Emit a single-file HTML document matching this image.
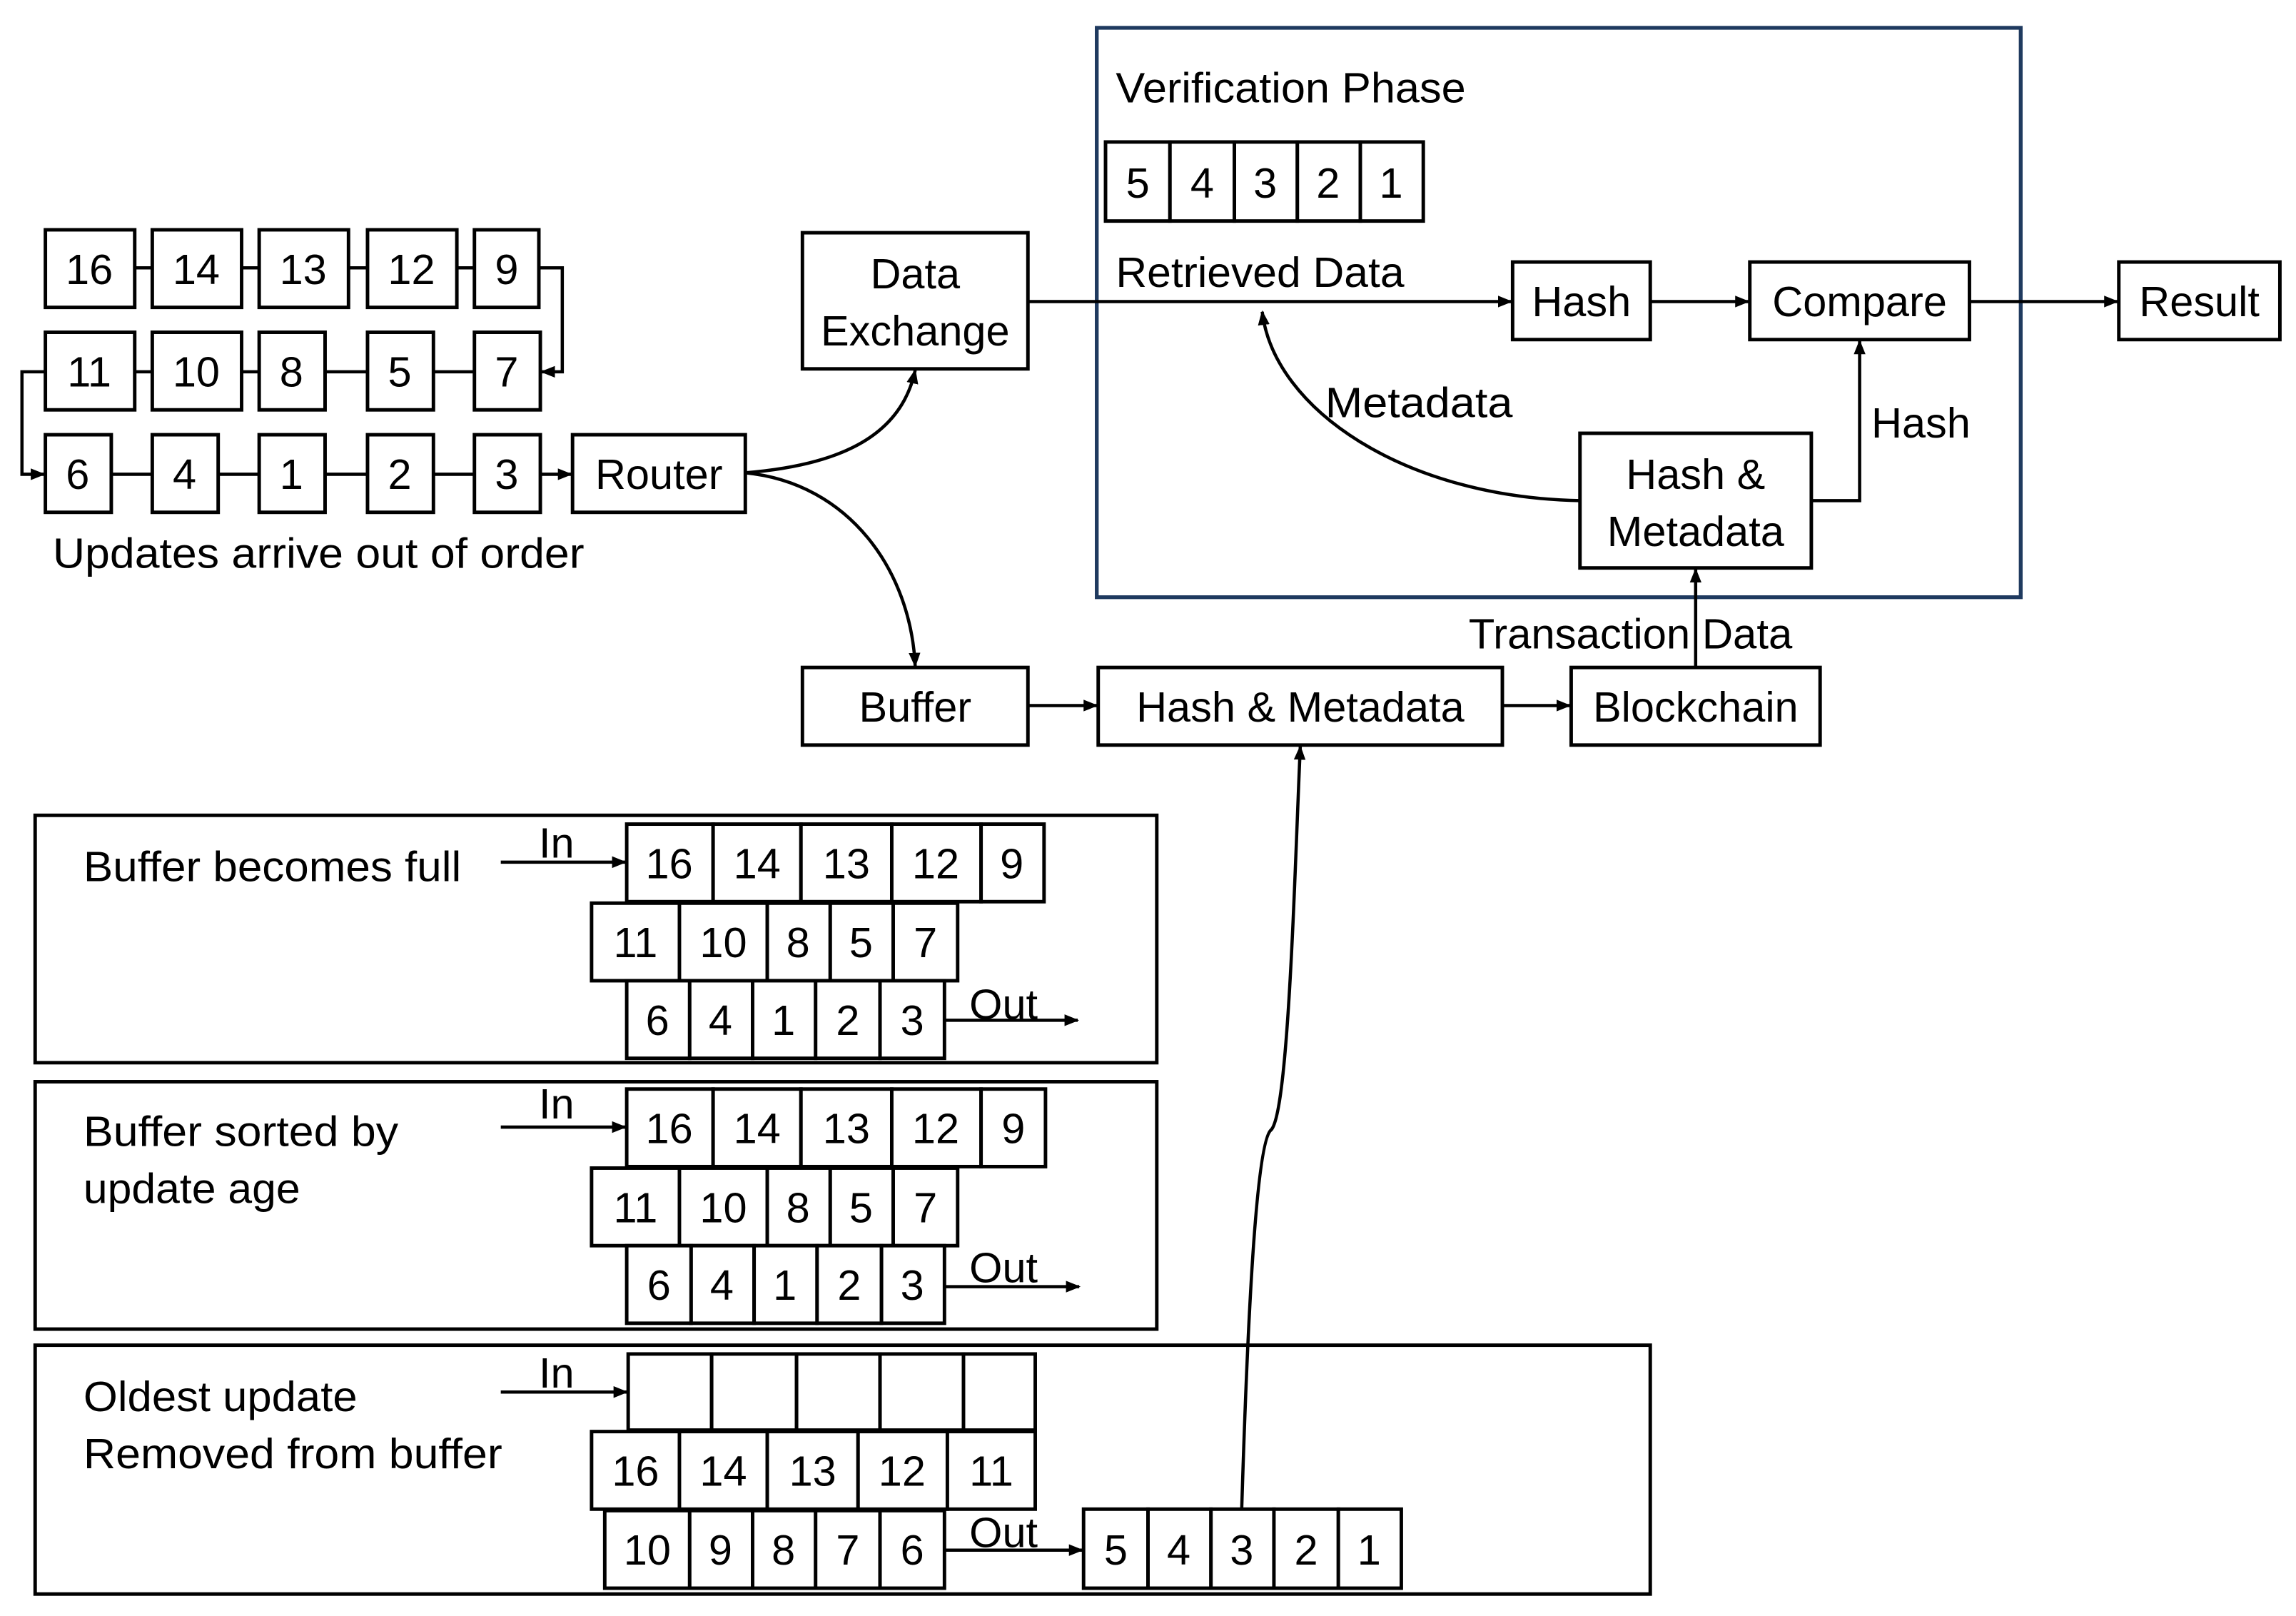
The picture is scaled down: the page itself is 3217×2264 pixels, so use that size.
<!DOCTYPE html>
<html><head><meta charset="utf-8"><style>
html,body{margin:0;padding:0;background:#fff}
svg{display:block}
text{font-family:"Liberation Sans",sans-serif;font-size:29px;fill:#000}
.c{text-anchor:middle}
rect{fill:#fff;stroke:#000;stroke-width:2.4}
path,line{fill:none;stroke:#000;stroke-width:2.2}
</style></head><body>
<svg width="3217" height="2264" viewBox="0 0 1568 1104" preserveAspectRatio="none" xmlns="http://www.w3.org/2000/svg">
<defs><marker id="a" markerWidth="10" markerHeight="10" refX="9" refY="5" orient="auto" markerUnits="userSpaceOnUse"><path d="M0,1 L10,5 L0,9 Z" style="fill:#000;stroke:none"/></marker></defs>

<!-- panels first -->
<rect x="24" y="557" width="766" height="169"/>
<rect x="24" y="739" width="766" height="169"/>
<rect x="24" y="919" width="1103" height="170"/>

<!-- top-left chains -->
<line x1="92" y1="183" x2="324" y2="183"/>
<line x1="92" y1="254" x2="324" y2="254"/>
<line x1="76" y1="324" x2="324" y2="324"/>
<path d="M368,183 H384 V254 H370" marker-end="url(#a)"/>
<path d="M31,254 H15 V324 H30" marker-end="url(#a)"/>
<line x1="369" y1="324" x2="390" y2="324" marker-end="url(#a)"/>
<g>
<rect x="31" y="157" width="61" height="53"/><text class="c" x="61" y="194">16</text>
<rect x="104" y="157" width="61" height="53"/><text class="c" x="134" y="194">14</text>
<rect x="177" y="157" width="61" height="53"/><text class="c" x="207" y="194">13</text>
<rect x="251" y="157" width="61" height="53"/><text class="c" x="281" y="194">12</text>
<rect x="324" y="157" width="44" height="53"/><text class="c" x="346" y="194">9</text>
<rect x="31" y="227" width="61" height="53"/><text class="c" x="61" y="264">11</text>
<rect x="104" y="227" width="61" height="53"/><text class="c" x="134" y="264">10</text>
<rect x="177" y="227" width="45" height="53"/><text class="c" x="199" y="264">8</text>
<rect x="251" y="227" width="45" height="53"/><text class="c" x="273" y="264">5</text>
<rect x="324" y="227" width="45" height="53"/><text class="c" x="346" y="264">7</text>
<rect x="31" y="297" width="45" height="53"/><text class="c" x="53" y="334">6</text>
<rect x="104" y="297" width="45" height="53"/><text class="c" x="126" y="334">4</text>
<rect x="177" y="297" width="45" height="53"/><text class="c" x="199" y="334">1</text>
<rect x="251" y="297" width="45" height="53"/><text class="c" x="273" y="334">2</text>
<rect x="324" y="297" width="45" height="53"/><text class="c" x="346" y="334">3</text>
<rect x="391" y="297" width="118" height="53"/><text class="c" x="450" y="334">Router</text>
</g>
<text x="36" y="388" textLength="363" lengthAdjust="spacingAndGlyphs">Updates arrive out of order</text>

<!-- router curves -->
<path d="M509,323 C570,318 615,300 625,253" marker-end="url(#a)"/>
<path d="M509,323 C580,330 622,390 625,455" marker-end="url(#a)"/>

<rect x="548" y="159" width="154" height="93"/><text class="c" x="625" y="197">Data</text><text class="c" x="625" y="236">Exchange</text>
<rect x="548" y="456" width="154" height="53"/><text class="c" x="625" y="493">Buffer</text>
<rect x="750" y="456" width="276" height="53"/><text class="c" x="888" y="493">Hash &amp; Metadata</text>
<rect x="1073" y="456" width="170" height="53"/><text class="c" x="1158" y="493">Blockchain</text>
<line x1="702" y1="482" x2="749" y2="482" marker-end="url(#a)"/>
<line x1="1026" y1="482" x2="1072" y2="482" marker-end="url(#a)"/>

<!-- verification -->
<rect x="749" y="19" width="631" height="389" style="stroke:#1f3a5f;stroke-width:2.6;fill:none"/>
<text x="762" y="70" textLength="239" lengthAdjust="spacingAndGlyphs">Verification Phase</text>
<rect x="755" y="97" width="44" height="54"/><text class="c" x="777" y="135">5</text>
<rect x="799" y="97" width="44" height="54"/><text class="c" x="821" y="135">4</text>
<rect x="843" y="97" width="43" height="54"/><text class="c" x="864" y="135">3</text>
<rect x="886" y="97" width="43" height="54"/><text class="c" x="907" y="135">2</text>
<rect x="929" y="97" width="43" height="54"/><text class="c" x="950" y="135">1</text>
<text x="762" y="196" textLength="197" lengthAdjust="spacingAndGlyphs">Retrieved Data</text>
<line x1="702" y1="206" x2="1032" y2="206" marker-end="url(#a)"/>
<rect x="1033" y="179" width="94" height="53"/><text class="c" x="1080" y="216">Hash</text>
<rect x="1195" y="179" width="150" height="53"/><text class="c" x="1270" y="216">Compare</text>
<rect x="1447" y="179" width="110" height="53"/><text class="c" x="1502" y="216">Result</text>
<line x1="1127" y1="206" x2="1194" y2="206" marker-end="url(#a)"/>
<line x1="1345" y1="206" x2="1446" y2="206" marker-end="url(#a)"/>
<rect x="1079" y="296" width="158" height="92"/><text class="c" x="1158" y="334">Hash &amp;</text><text class="c" x="1158" y="373">Metadata</text>
<path d="M1237,342 H1270 V233" marker-end="url(#a)"/>
<text x="1278" y="299">Hash</text>
<path d="M1079,342 C960,340 870,280 862,213" marker-end="url(#a)"/>
<text x="905" y="285" textLength="128" lengthAdjust="spacingAndGlyphs">Metadata</text>
<line x1="1158" y1="456" x2="1158" y2="389" marker-end="url(#a)"/>
<text x="1003" y="443" textLength="221" lengthAdjust="spacingAndGlyphs">Transaction Data</text>

<!-- curve to hash & metadata -->
<path d="M848,1031 C852,900 858,780 868,772 C880,760 884,600 888,510" marker-end="url(#a)"/>

<text x="57" y="602" textLength="258" lengthAdjust="spacingAndGlyphs">Buffer becomes full</text>
<text x="57" y="783" textLength="215" lengthAdjust="spacingAndGlyphs">Buffer sorted by</text>
<text x="57" y="822" textLength="148" lengthAdjust="spacingAndGlyphs">update age</text>
<text x="57" y="964" textLength="187" lengthAdjust="spacingAndGlyphs">Oldest update</text>
<text x="57" y="1003" textLength="286" lengthAdjust="spacingAndGlyphs">Removed from buffer</text>

<text x="368" y="586">In</text><line x1="342" y1="589" x2="427" y2="589" marker-end="url(#a)"/>
<text x="368" y="764">In</text><line x1="342" y1="770" x2="427" y2="770" marker-end="url(#a)"/>
<text x="368" y="948">In</text><line x1="342" y1="951" x2="428" y2="951" marker-end="url(#a)"/>
<text x="662" y="696">Out</text><line x1="645" y1="697" x2="736" y2="697" marker-end="url(#a)"/>
<text x="662" y="876">Out</text><line x1="645" y1="879" x2="737" y2="879" marker-end="url(#a)"/>
<text x="662" y="1057">Out</text><line x1="645" y1="1059" x2="739" y2="1059" marker-end="url(#a)"/>

<!-- panel 1 -->
<rect x="428" y="563" width="59" height="53"/><text class="c" x="457" y="600">16</text>
<rect x="487" y="563" width="60" height="53"/><text class="c" x="517" y="600">14</text>
<rect x="547" y="563" width="62" height="53"/><text class="c" x="578" y="600">13</text>
<rect x="609" y="563" width="61" height="53"/><text class="c" x="639" y="600">12</text>
<rect x="670" y="563" width="43" height="53"/><text class="c" x="691" y="600">9</text>
<rect x="404" y="617" width="60" height="53"/><text class="c" x="434" y="654">11</text>
<rect x="464" y="617" width="60" height="53"/><text class="c" x="494" y="654">10</text>
<rect x="524" y="617" width="43" height="53"/><text class="c" x="545" y="654">8</text>
<rect x="567" y="617" width="43" height="53"/><text class="c" x="588" y="654">5</text>
<rect x="610" y="617" width="44" height="53"/><text class="c" x="632" y="654">7</text>
<rect x="428" y="670" width="43" height="53"/><text class="c" x="449" y="707">6</text>
<rect x="471" y="670" width="43" height="53"/><text class="c" x="492" y="707">4</text>
<rect x="514" y="670" width="43" height="53"/><text class="c" x="535" y="707">1</text>
<rect x="557" y="670" width="44" height="53"/><text class="c" x="579" y="707">2</text>
<rect x="601" y="670" width="44" height="53"/><text class="c" x="623" y="707">3</text>

<!-- panel 2 -->
<rect x="428" y="744" width="59" height="53"/><text class="c" x="457" y="781">16</text>
<rect x="487" y="744" width="60" height="53"/><text class="c" x="517" y="781">14</text>
<rect x="547" y="744" width="62" height="53"/><text class="c" x="578" y="781">13</text>
<rect x="609" y="744" width="61" height="53"/><text class="c" x="639" y="781">12</text>
<rect x="670" y="744" width="44" height="53"/><text class="c" x="692" y="781">9</text>
<rect x="404" y="798" width="60" height="53"/><text class="c" x="434" y="835">11</text>
<rect x="464" y="798" width="60" height="53"/><text class="c" x="494" y="835">10</text>
<rect x="524" y="798" width="43" height="53"/><text class="c" x="545" y="835">8</text>
<rect x="567" y="798" width="43" height="53"/><text class="c" x="588" y="835">5</text>
<rect x="610" y="798" width="44" height="53"/><text class="c" x="632" y="835">7</text>
<rect x="428" y="851" width="44" height="53"/><text class="c" x="450" y="888">6</text>
<rect x="472" y="851" width="43" height="53"/><text class="c" x="493" y="888">4</text>
<rect x="515" y="851" width="43" height="53"/><text class="c" x="536" y="888">1</text>
<rect x="558" y="851" width="44" height="53"/><text class="c" x="580" y="888">2</text>
<rect x="602" y="851" width="43" height="53"/><text class="c" x="623" y="888">3</text>

<!-- panel 3 -->
<rect x="429" y="925" width="57" height="52"/>
<rect x="486" y="925" width="58" height="52"/>
<rect x="544" y="925" width="57" height="52"/>
<rect x="601" y="925" width="57" height="52"/>
<rect x="658" y="925" width="49" height="52"/>
<rect x="404" y="978" width="60" height="53"/><text class="c" x="434" y="1015">16</text>
<rect x="464" y="978" width="60" height="53"/><text class="c" x="494" y="1015">14</text>
<rect x="524" y="978" width="62" height="53"/><text class="c" x="555" y="1015">13</text>
<rect x="586" y="978" width="61" height="53"/><text class="c" x="616" y="1015">12</text>
<rect x="647" y="978" width="60" height="53"/><text class="c" x="677" y="1015">11</text>
<rect x="413" y="1032" width="58" height="53"/><text class="c" x="442" y="1069">10</text>
<rect x="471" y="1032" width="43" height="53"/><text class="c" x="492" y="1069">9</text>
<rect x="514" y="1032" width="43" height="53"/><text class="c" x="535" y="1069">8</text>
<rect x="557" y="1032" width="44" height="53"/><text class="c" x="579" y="1069">7</text>
<rect x="601" y="1032" width="44" height="53"/><text class="c" x="623" y="1069">6</text>
<rect x="740" y="1031" width="44" height="54"/><text class="c" x="762" y="1069">5</text>
<rect x="784" y="1031" width="43" height="54"/><text class="c" x="805" y="1069">4</text>
<rect x="827" y="1031" width="43" height="54"/><text class="c" x="848" y="1069">3</text>
<rect x="870" y="1031" width="44" height="54"/><text class="c" x="892" y="1069">2</text>
<rect x="914" y="1031" width="43" height="54"/><text class="c" x="935" y="1069">1</text>
</svg>
</body></html>
